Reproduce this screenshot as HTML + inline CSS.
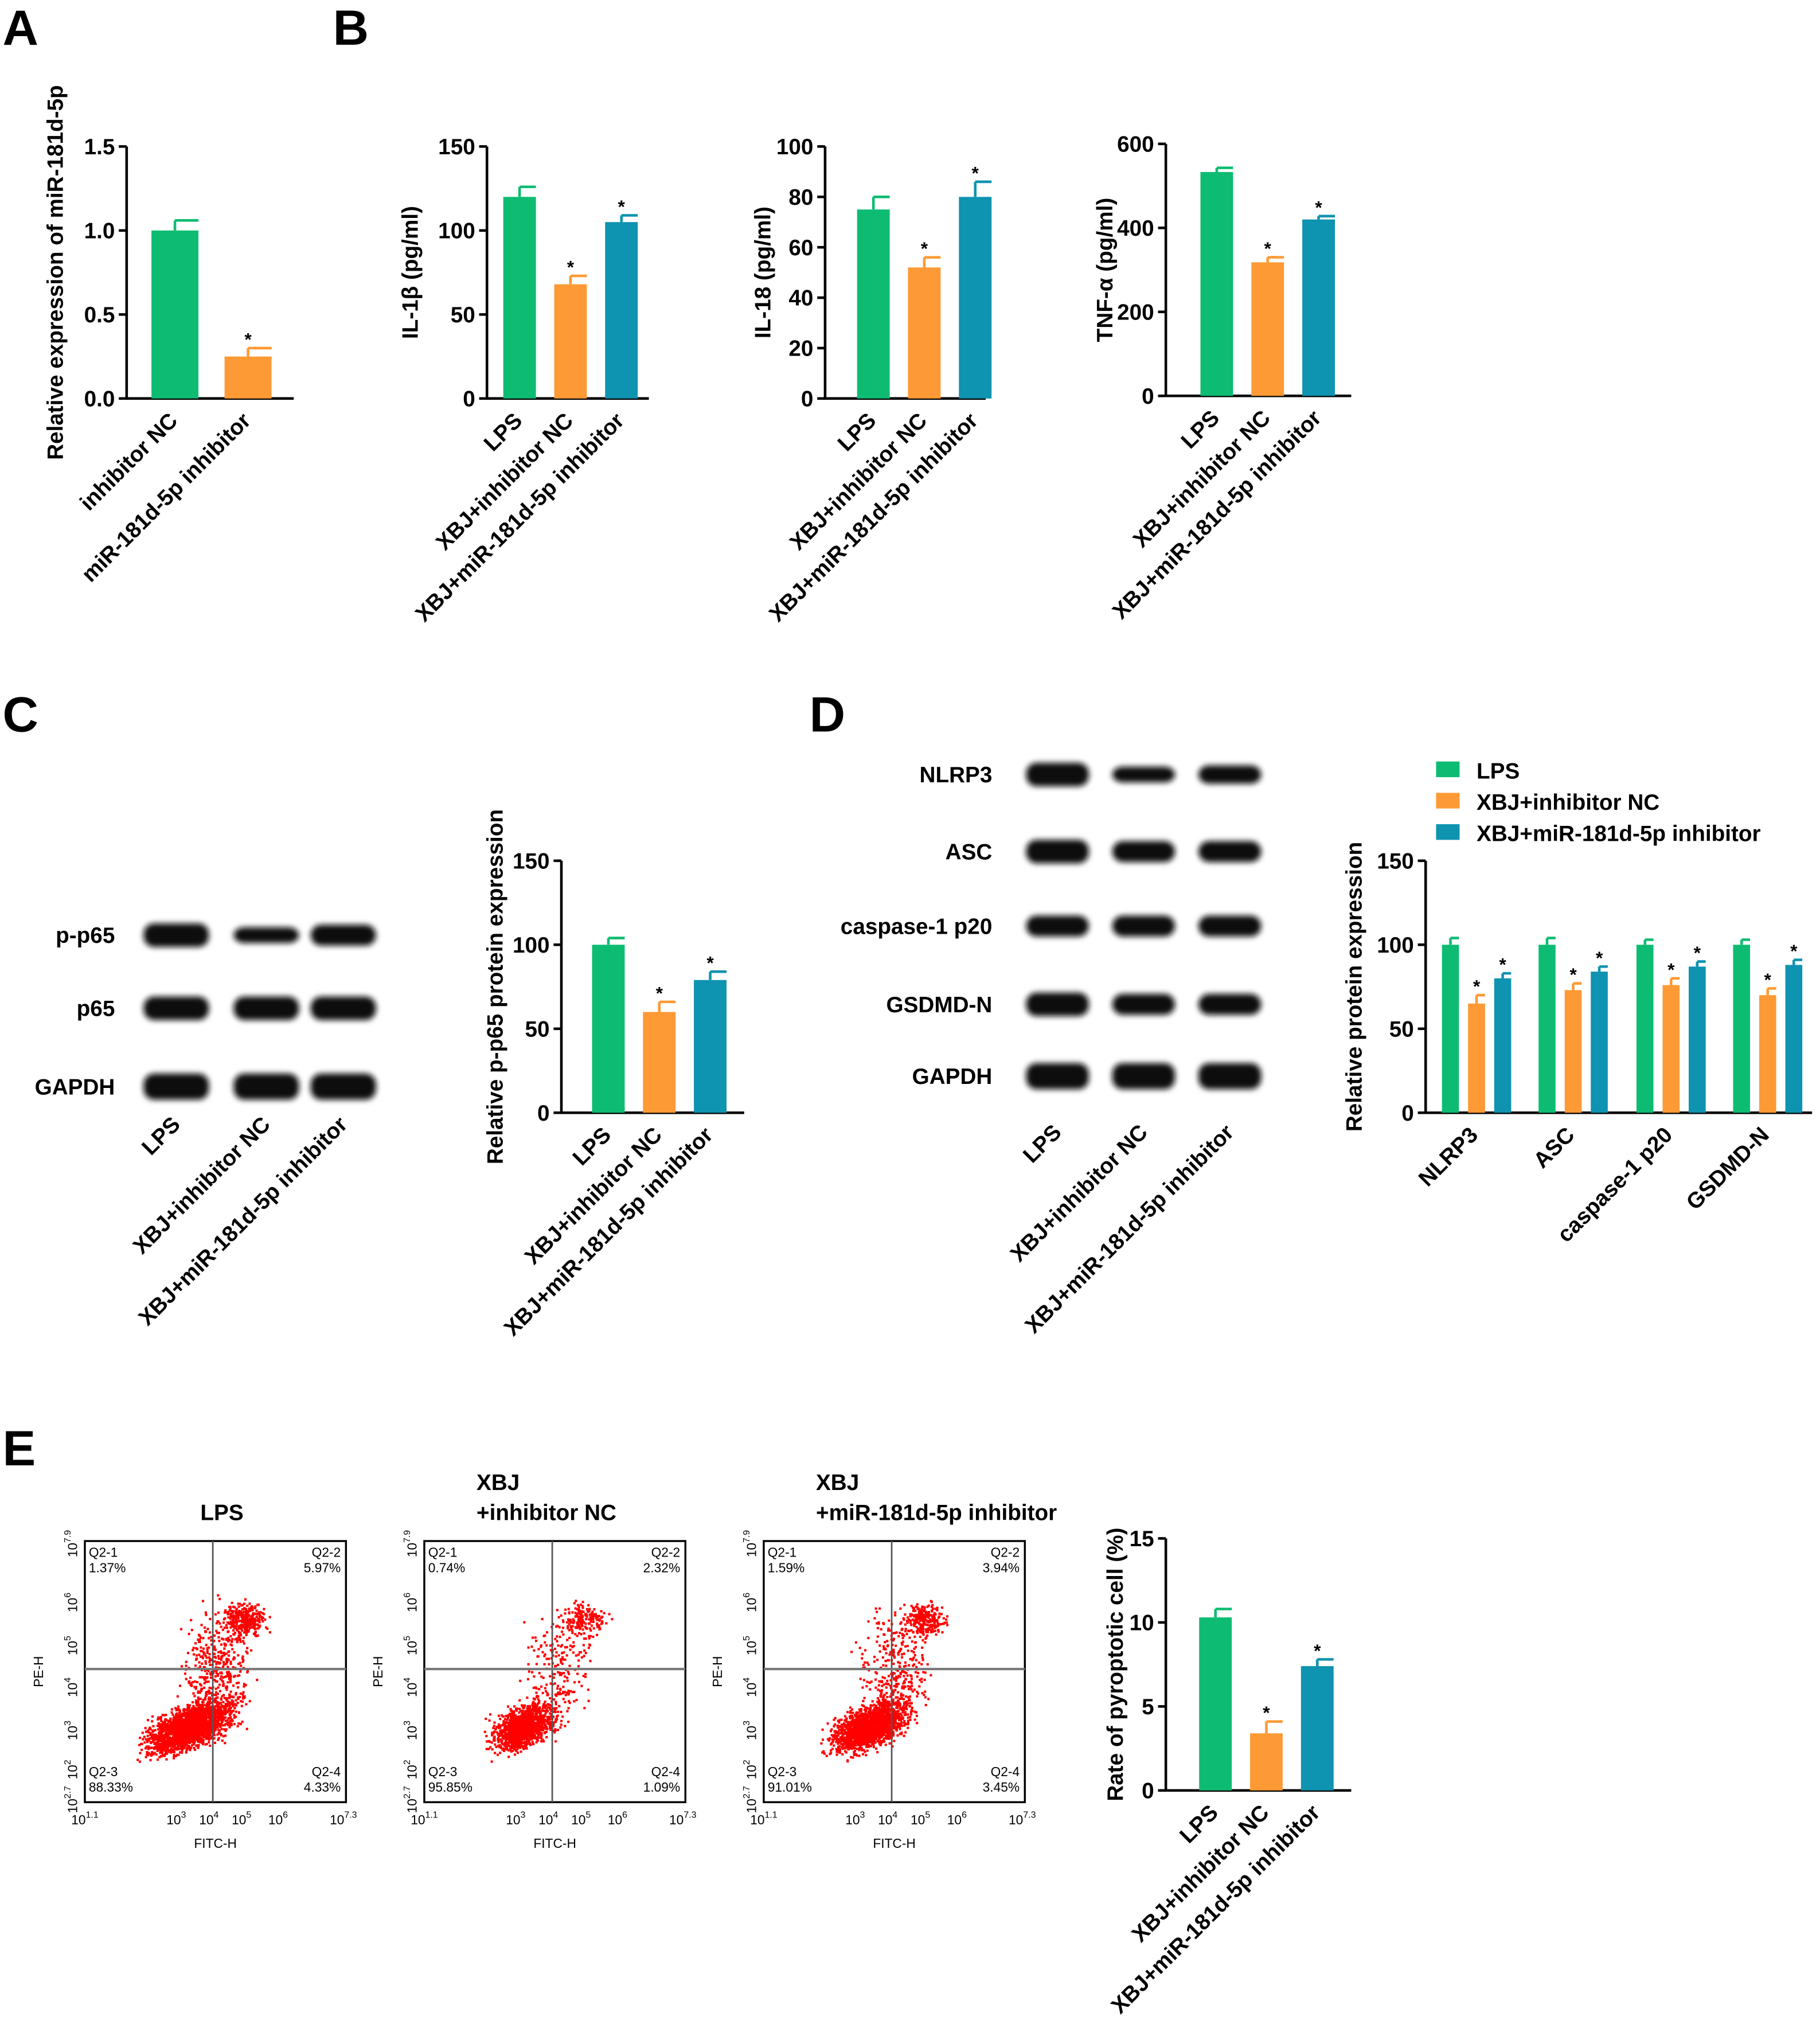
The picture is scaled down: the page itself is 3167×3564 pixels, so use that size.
<!DOCTYPE html>
<html><head><meta charset="utf-8"><style>
html,body{margin:0;padding:0;background:#fff}
svg{display:block}
text{font-family:"Liberation Sans",Arial,sans-serif;font-weight:bold;fill:#000}
</style></head><body>
<svg id="fig" width="3167" height="3564" viewBox="0 0 1391 1565" xmlns="http://www.w3.org/2000/svg">
<defs>
<filter id="blur" x="-20%" y="-50%" width="140%" height="200%"><feGaussianBlur stdDeviation="2.2"/></filter>
</defs>
<g id="root"></g>
</svg>
<script>
// ---- data ----
const groups3 = ["LPS","XBJ+inhibitor NC","XBJ+miR-181d-5p inhibitor"];
const catsA = ["inhibitor NC","miR-181d-5p inhibitor"];
const valsA = [1.0, 0.25];
const errA = [0.06, 0.05];
const ticksA = ["0.0","0.5","1.0","1.5"];
const valsIL1 = [120, 68, 105];
const errIL1 = [6, 5, 4];
const ticksIL1 = ["0","50","100","150"];
const valsIL18 = [75, 52, 80];
const errIL18 = [5, 4, 6];
const ticksIL18 = ["0","20","40","60","80","100"];
const valsTNF = [533, 318, 420];
const errTNF = [10, 12, 8];
const ticksTNF = ["0","200","400","600"];
const valsP65 = [100, 60, 79];
const errP65 = [4, 6, 5];
const ticksP65 = ["0","50","100","150"];
const protCats = ["NLRP3","ASC","caspase-1 p20","GSDMD-N"];
const protLPS = [100, 100, 100, 100];
const protNC = [65, 73, 76, 70];
const protInh = [80, 84, 87, 88];
const protErrLPS = [4, 4, 3, 3];
const protErrNC = [5, 4, 4, 4];
const protErrInh = [3, 3, 3, 3];
const valsPyro = [10.3, 3.4, 7.4];
const errPyro = [0.5, 0.7, 0.4];
const ticksPyro = ["0","5","10","15"];
const flowQ = [["1.37%","5.97%","88.33%","4.33%"],["0.74%","2.32%","95.85%","1.09%"],["1.59%","3.94%","91.01%","3.45%"]];
const colors = ["#0dbc72","#fd9a35","#0e93b0"];

const NS="http://www.w3.org/2000/svg";
const root=document.getElementById('root');
function mk(tag,attrs,parent,txt){const e=document.createElementNS(NS,tag);for(const k in attrs)e.setAttribute(k,attrs[k]);if(txt!==undefined)e.textContent=txt;(parent||root).appendChild(e);return e;}

function panelLetter(t,x,y){const e=mk('text',{x:x,y:y,'font-size':38},root,t);

}
panelLetter('A',2,34);panelLetter('B',255,34);panelLetter('C',2,560);panelLetter('D',620,560);panelLetter('E',2,1122);

function barChart(o){
  const g=mk('g',{});
  
  
  const ymax=parseFloat(o.ticks[o.ticks.length-1]);
  const y=v=>o.y0-(v/ymax)*(o.y0-o.ytop);
  const ax=mk('path',{d:`M${o.x0},${o.ytop} V${o.y0} H${o.x1}`,stroke:'#000','stroke-width':2,fill:'none'},g);
  
  
  o.ticks.forEach(t=>{const v=parseFloat(t);const yy=y(v);
    mk('line',{x1:o.x0-6,x2:o.x0,y1:yy,y2:yy,stroke:'#000','stroke-width':2},g);
    const tl=mk('text',{x:o.x0-9,y:yy+6,'text-anchor':'end','font-size':17},g,t);
    
    });
  const yt=mk('text',{transform:`translate(${o.titleX},${(o.ytop+o.y0)/2}) rotate(-90)`,'text-anchor':'middle','font-size':17},g,o.title);
  
  
  o.series.forEach((s,si)=>{
    s.vals.forEach((v,i)=>{
      const cx=o.centers[i]+(s.off||0);
      const w=o.bw;
      const b=mk('rect',{x:cx-w/2,y:y(v),width:w,height:o.y0-y(v),fill:s.color},g);
      
      
      const ey=y(v+s.err[i]);
      mk('path',{d:`M${cx},${y(v)} V${ey} M${cx},${ey} H${cx+w/2}`,stroke:s.color,'stroke-width':2,fill:'none'},g);
      if(s.star&&s.star[i]){const st=mk('text',{x:cx,y:ey-2,'text-anchor':'middle','font-size':14},g,'*');
        
        }
    });
  });
  o.labels.forEach((l,i)=>{const t=mk('text',{transform:`translate(${o.labelX[i]},${o.y0+18}) rotate(-45)`,'text-anchor':'end','font-size':17},g,l);
    
    });
}
const c3=(a,b)=>[a,a+b,a+2*b];
function colourChart(name,x0,x1,ytop,y0,centers,bw,vals,err,ticks,title,titleX,labels,stars){
  const series=vals.map((v,i)=>({key:'g'+i+'-',vals:[v],err:[err[i]],color:colors[i],star:[stars[i]],off:centers[i]-centers[0]}));
  barChart({name,x0,x1,ytop,y0,centers:[centers[0]],bw,ticks,title,titleX,labels,labelX:centers.map(c=>c+3),series});
}
colourChart('chart-a-mir181',97,225,112,305,[134,190],36,valsA,errA,ticksA,'Relative expression of miR-181d-5p',48,catsA,[0,1]);
colourChart('chart-b-il1b',373,497,112,305,c3(398,39),25,valsIL1,errIL1,ticksIL1,'IL-1β (pg/ml)',320,groups3,[0,1,1]);
colourChart('chart-b-il18',632,755,112,305,c3(669,39),25,valsIL18,errIL18,ticksIL18,'IL-18 (pg/ml)',590,groups3,[0,1,1]);
colourChart('chart-b-tnf',893,1035,110,303,c3(932,39),25,valsTNF,errTNF,ticksTNF,'TNF-α (pg/ml)',852,groups3,[0,1,1]);
colourChart('chart-c-p65',430,570,659,852,c3(466,39),25,valsP65,errP65,ticksP65,'Relative p-p65 protein expression',385,groups3,[0,1,1]);
colourChart('chart-e-pyroptosis',893,1035,1178,1371,c3(931,39),25,valsPyro,errPyro,ticksPyro,'Rate of pyroptotic cell (%)',860,groups3,[0,1,1]);

barChart({name:'chart-d-proteins',x0:1092,x1:1388,ytop:659,y0:852,centers:[1131,1205,1280,1354],bw:13,ticks:ticksP65,
  title:'Relative protein expression',titleX:1043,labels:protCats,labelX:[1133,1207,1282,1356],
  series:[{key:'lps-',vals:protLPS,err:protErrLPS,color:colors[0],off:-20},
          {key:'nc-',vals:protNC,err:protErrNC,color:colors[1],off:0,star:[1,1,1,1]},
          {key:'inh-',vals:protInh,err:protErrInh,color:colors[2],off:20,star:[1,1,1,1]}]});
groups3.forEach((g,i)=>{const y=591+i*24;
  const r=mk('rect',{x:1100,y:y-8,width:18,height:12,fill:colors[i]});
  
  
  const t=mk('text',{x:1131,y:y+5,'font-size':17},root,g);
  
  });

function blot(name,labels,ys,xs,labelX,bandW,labelsBottom,lbY,widths){
  const g=mk('g',{});
  
  
  labels.forEach((l,i)=>{
    const t=mk('text',{x:labelX,y:ys[i]+6,'text-anchor':'end','font-size':17},g,l);
    
    
    xs.forEach((x,j)=>{const hh=(widths&&widths[i])?widths[i][j]:18;
      const b=mk('rect',{x:x-bandW/2,y:ys[i]-hh/2,width:bandW,height:hh,rx:8,fill:'#111',filter:'url(#blur)'},g);
      
      });
  });
  labelsBottom.forEach((l,i)=>{const t=mk('text',{transform:`translate(${xs[i]+4},${lbY}) rotate(-45)`,'text-anchor':'end','font-size':17},g,l);
    
    });
}
blot('blot-c',['p-p65','p65','GAPDH'],[716,772,832],[135,204,263],88,50,groups3,862,[[18,12,16],[18,18,18],[20,20,20]]);
blot('blot-d',['NLRP3','ASC','caspase-1 p20','GSDMD-N','GAPDH'],[593,652,709,769,824],[810,876,942],760,48,groups3,868,[[18,12,14],[18,16,16],[16,16,16],[18,16,16],[20,20,20]]);

let seed=7;function rnd(){seed=(seed*16807)%2147483647;return seed/2147483647;}
function gauss(){return (rnd()+rnd()+rnd()-1.5)/0.75;}
const flowTitles=[["LPS"],["XBJ","+inhibitor NC"],["XBJ","+miR-181d-5p inhibitor"]];
[65,325,585].forEach((x0,k)=>{
  const g=mk('g',{});
  
  
  const y0=1180,w=200,h=200;
  const tt=flowTitles[k];
  tt.forEach((t,i)=>{const e=mk('text',{x:k==0?x0+105:x0+40,y:1164-(tt.length-1-i)*23,'text-anchor':k==0?'middle':'start','font-size':17},g,t);
    
    });
  mk('rect',{x:x0,y:y0,width:w,height:h,fill:'none',stroke:'#000','stroke-width':1.5},g);
  const vx=x0+98,hy=y0+98;
  const n=[3000,1600,2400][k];
  const mainX=[80,75,80][k], spread=[22,16,20][k];
  for(let i=0;i<n;i++){
    let cx,cy,r=rnd();
    if(r<0.75){const a=gauss(),b=gauss();cx=x0+mainX+a*spread;cy=y0+142+b*11-a*spread*0.35;}
    else if(r<0.86){cx=x0+122+gauss()*11;cy=y0+60+gauss()*9;}
    else{cx=x0+100+gauss()*18;cy=y0+100+gauss()*32;}
    if(cx<x0+2||cx>x0+w-2||cy<y0+2||cy>y0+h-2)continue;
    mk('rect',{x:cx,y:cy,width:1.8,height:1.8,fill:'#f00'},g);
  }
  mk('line',{x1:vx,x2:vx,y1:y0,y2:y0+h,stroke:'#555','stroke-width':1.2},g);
  mk('line',{x1:x0,x2:x0+w,y1:hy,y2:hy,stroke:'#777','stroke-width':1.8},g);
  const q=flowQ[k];const fs=10;
  [[x0+3,y0+12,'start','Q2-1',q[0]],[x0+w-4,y0+12,'end','Q2-2',q[1]],[x0+3,y0+h-20,'start','Q2-3',q[2]],[x0+w-4,y0+h-20,'end','Q2-4',q[3]]].forEach(a=>{
    const t1=mk('text',{x:a[0],y:a[1],'text-anchor':a[2],'font-size':fs,style:'font-weight:normal'},g,a[3]);
    
    
    const t2=mk('text',{x:a[0],y:a[1]+12,'text-anchor':a[2],'font-size':fs,style:'font-weight:normal'},g,a[4]);
    
    });
  ['10^1.1','','10^3','10^4','10^5','10^6','10^7.3'].forEach((t,i)=>{if(!t)return;
    const xx=x0+[0,0,70,95,120,148,198][i];const p=t.split('^');
    const e=mk('text',{x:xx,y:y0+h+17,'text-anchor':'middle','font-size':10,style:'font-weight:normal'},g);
    e.textContent=p[0];mk('tspan',{dy:-5,'font-size':7},e,p[1]);});
  ['10^2.7','10^2','10^3','10^4','10^5','10^6','10^7.9'].forEach((t,i)=>{
    const yy=y0+[198,175,145,112,80,47,2][i];const p=t.split('^');
    const e=mk('text',{transform:`translate(${x0-6},${yy}) rotate(-90)`,'text-anchor':'middle','font-size':10,style:'font-weight:normal'},g);
    e.textContent=p[0];mk('tspan',{dy:-5,'font-size':7},e,p[1]);});
  const xl=mk('text',{x:x0+w/2,y:y0+h+35,'text-anchor':'middle','font-size':10,style:'font-weight:normal'},g,'FITC-H');
  
  
  const yl=mk('text',{transform:`translate(${x0-32},${y0+h/2}) rotate(-90)`,'text-anchor':'middle','font-size':10,style:'font-weight:normal'},g,'PE-H');
  
  
});
</script>
</body></html>
